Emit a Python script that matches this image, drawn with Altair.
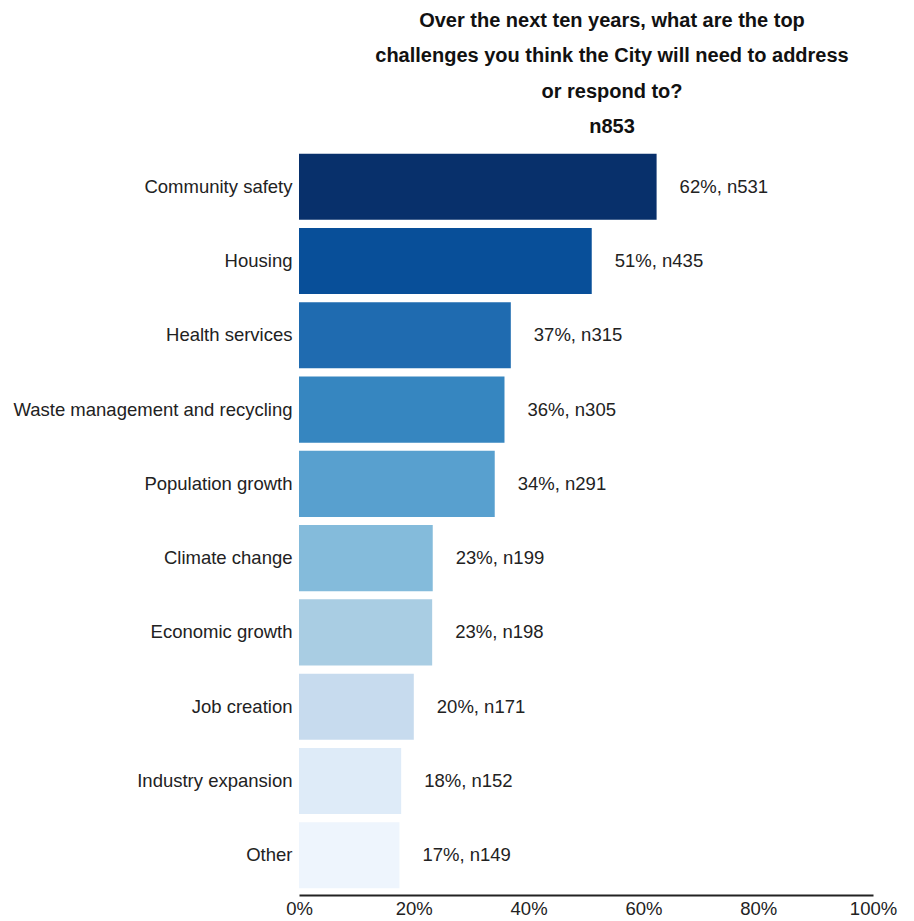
import altair as alt
import pandas as pd

categories = ["Community safety", "Housing", "Health services", "Waste management and recycling",
              "Population growth", "Climate change", "Economic growth", "Job creation",
              "Industry expansion", "Other"]
shares = [62.3, 51.0, 36.9, 35.8, 34.1, 23.3, 23.2, 20.0, 17.8, 17.5]
pct_labels = [62, 51, 37, 36, 34, 23, 23, 20, 18, 17]
counts = [531, 435, 315, 305, 291, 199, 198, 171, 152, 149]
colors = ["#08306b", "#084f99", "#1f6bb0", "#3686c0", "#58a0cf", "#84bbdb",
          "#a9cde3", "#c7dbee", "#deebf8", "#eef5fd"]
title_lines = ["Over the next ten years, what are the top",
               "challenges you think the City will need to address",
               "or respond to?", "n853"]

df = pd.DataFrame({
    "category": categories,
    "share": shares,
    "label": [f"{p}%, n{n}" for p, n in zip(pct_labels, counts)],
})

FONT = "Liberation Sans"
FS = 18.5

y = alt.Y("category:N", sort=categories, title=None,
          scale=alt.Scale(paddingInner=0.11, paddingOuter=0.09),
          axis=alt.Axis(domain=False, ticks=False, labelFontSize=FS, labelFont=FONT,
                        labelColor="#222222", labelPadding=7, labelLimit=400))
x = alt.X("share:Q", title=None,
          scale=alt.Scale(domain=[0, 100], nice=False),
          axis=alt.Axis(values=[0, 20, 40, 60, 80, 100], labelExpr="datum.value + '%'",
                        grid=False, ticks=False, domainColor="#222222", domainWidth=2,
                        labelFontSize=FS, labelFont=FONT, labelColor="#222222",
                        labelPadding=4, labelFlush=False))

bars = alt.Chart(df).mark_bar().encode(
    x=x, y=y,
    color=alt.Color("category:N", scale=alt.Scale(domain=categories, range=colors), legend=None),
)
text = alt.Chart(df).mark_text(align="left", baseline="middle", dx=23, fontSize=FS,
                               font=FONT, color="#222222").encode(
    x="share:Q", y=alt.Y("category:N", sort=categories), text="label:N")

chart = (bars + text).properties(
    width=574, height=748,
    title=alt.TitleParams(title_lines, fontSize=20, font=FONT, fontWeight="bold",
                          color="#111111", lineHeight=35.5, anchor="middle", dx=26, offset=10),
    autosize=alt.AutoSizeParams(type="none"),
    padding={"left": 291, "top": 139, "right": 32, "bottom": 30},
).configure_view(stroke=None)

chart.save("out.html", embed_options={"renderer": "svg", "actions": False})
